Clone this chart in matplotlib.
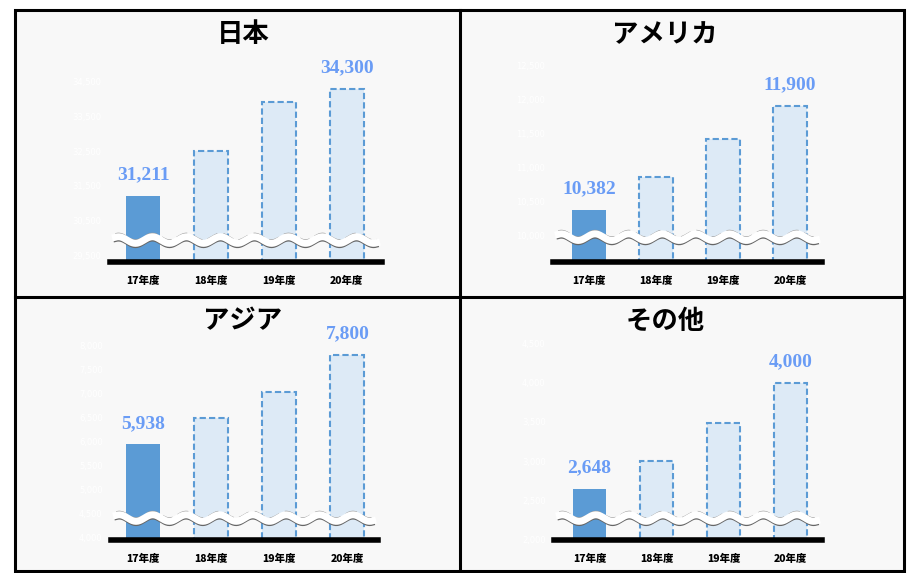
import numpy as np
import matplotlib
matplotlib.use("Agg")
import matplotlib.pyplot as plt
from matplotlib.patches import Rectangle
from matplotlib.lines import Line2D

# data
regions = ["日本", "アメリカ", "アジア", "その他"]
years = ["17年度", "18年度", "19年度", "20年度"]
japan = [31211, 32500, 33900, 34300]
america = [10382, 10860, 11420, 11900]
asia = [5938, 6480, 7035, 7800]
other = [2648, 3000, 3490, 4000]
series = [japan, america, asia, other]

# axis ranges (broken axis, bottom does not start at 0)
y_min = [29313, 9614, 3943, 1993]
y_max = [35266, 12647, 8217, 4607]
y_ticks = [np.arange(29500, 35500, 1000), np.arange(10000, 13000, 500),
           np.arange(4000, 8500, 500), np.arange(2000, 5000, 500)]

W, H = 910, 573
SOLID = "#5b9bd5"
LIGHT = "#ddeaf6"
LABEL = "#6a9cf5"

fig = plt.figure(figsize=(W / 100, H / 100), dpi=100)
fig.patch.set_facecolor("white")


def px_rect(x0, y0, x1, y1):
    # figure pixel box (top-left origin) -> fraction rect
    return [x0 / W, 1 - y1 / H, (x1 - x0) / W, (y1 - y0) / H]


# panel background and frame
fig.add_artist(Rectangle((15 / W, 1 - 571 / H), 889 / W, 561 / H,
                         transform=fig.transFigure, facecolor="#f8f8f8",
                         edgecolor="black", linewidth=2.2, zorder=0))
fig.add_artist(Line2D([460 / W, 460 / W], [1 - 10 / H, 1 - 571 / H],
                      transform=fig.transFigure, color="black", linewidth=2.2))
fig.add_artist(Line2D([15 / W, 904 / W], [1 - 297 / H, 1 - 297 / H],
                      transform=fig.transFigure, color="black", linewidth=2.2))

boxes = [(110, 55, 382, 262), (553, 55, 822, 262),
         (111, 335, 378, 540), (554, 335, 822, 540)]
xlims = [(-0.49, 3.52), (-0.54, 3.48), (-0.47, 3.45), (-0.53, 3.47)]
title_pos = [(243, 35), (665, 35), (243, 321), (665, 321)]
wave_y = [0.106, 0.12, 0.107, 0.107]

x = np.arange(len(years))

for i in range(4):
    ax = fig.add_axes(px_rect(*boxes[i]))
    ax.set_facecolor("none")
    vals = series[i]
    base = y_min[i]
    heights = [v - base for v in vals]

    ax.bar(x[:1], heights[:1], bottom=base, width=0.5, color=SOLID, zorder=2)
    ax.bar(x[1:], heights[1:], bottom=base, width=0.5, color=LIGHT,
           edgecolor=SOLID, linestyle=(0, (3, 1.5)), linewidth=1.5, zorder=2)

    for j in (0, len(vals) - 1):
        ax.annotate(f"{vals[j]:,}", (x[j], vals[j]), xytext=(0, 15),
                    textcoords="offset points", ha="center", va="center",
                    fontsize=14, fontweight="bold", color=LABEL,
                    family="Liberation Serif")

    ax.set_xlim(*xlims[i])
    ax.set_ylim(y_min[i], y_max[i])
    ax.set_xticks(x)
    ax.set_xticklabels(years, fontsize=7.5, fontweight="heavy",
                       family=["Noto Sans CJK JP", "DejaVu Sans"])
    ax.set_yticks(y_ticks[i])
    ax.set_yticklabels([f"{t:,}" for t in y_ticks[i]], fontsize=6, color="white")
    ax.tick_params(axis="x", length=0, pad=10)
    ax.tick_params(axis="y", length=0, pad=6)
    for s in ("top", "right", "left"):
        ax.spines[s].set_visible(False)
    ax.spines["bottom"].set_linewidth(4)
    ax.spines["bottom"].set_zorder(5)

    # wavy break mark
    wx = np.linspace(0.02, 0.98, 300)
    wy = wave_y[i] + 0.016 * np.sin(wx * 2 * np.pi * 8)
    ax.plot(wx, wy - 0.013, transform=ax.transAxes, color="#666666",
            linewidth=3, clip_on=False, zorder=6)
    ax.plot(wx, wy + 0.013, transform=ax.transAxes, color="#999999",
            linewidth=2, clip_on=False, zorder=6, linestyle=(0, (4, 2)))
    ax.plot(wx, wy, transform=ax.transAxes, color="white",
            linewidth=5, clip_on=False, zorder=7)

    tx, ty = title_pos[i]
    fig.text(tx / W, 1 - ty / H, regions[i], ha="center", va="center",
             fontsize=19, fontweight="bold",
             family=["Noto Sans CJK JP", "DejaVu Sans"])

fig.savefig("out.png", dpi=100)
